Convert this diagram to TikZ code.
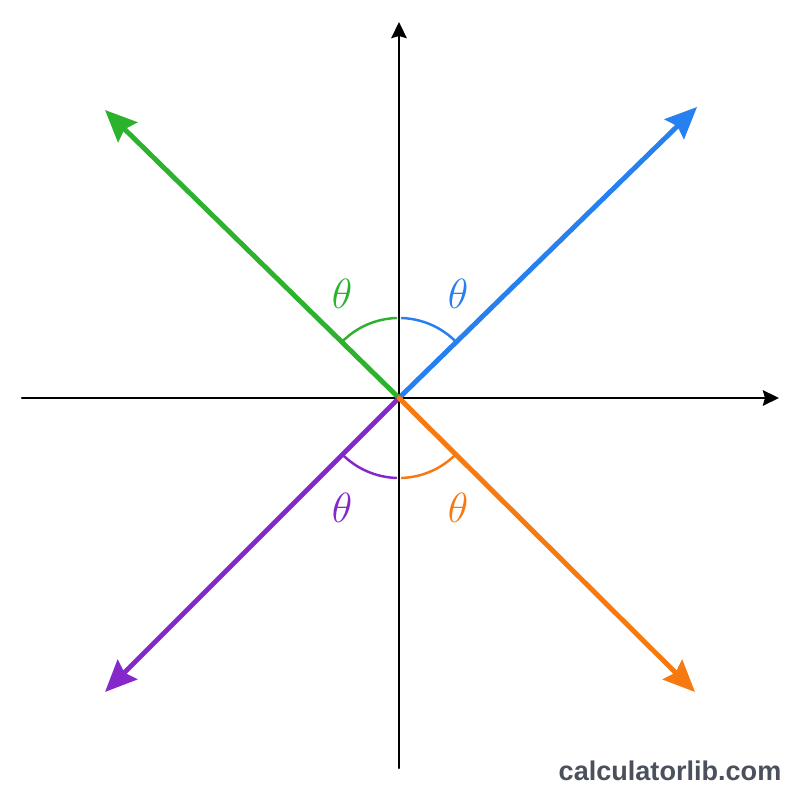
\documentclass[tikz,border=0pt]{standalone}
\usepackage{fontspec}
\newfontfamily\markfont{Liberation Sans}
\usetikzlibrary{arrows.meta}
\definecolor{vgreen}{RGB}{44,178,44}
\definecolor{vblue}{RGB}{38,128,240}
\definecolor{vpurple}{RGB}{132,40,204}
\definecolor{vorange}{RGB}{246,122,16}
\definecolor{markgray}{RGB}{74,80,92}
\tikzset{
  axis/.style={line width=0.6pt,-{Stealth[length=4.6pt,width=4.4pt,inset=0.6pt]}},
  vec/.style={line width=1.4pt,-{Stealth[length=9pt,width=7.8pt,inset=1.2pt]}},
  ang/.style={line width=0.7pt},
  lab/.style={inner sep=0pt,font=\fontsize{12}{14}\selectfont}
}
\begin{document}
\begin{tikzpicture}[line cap=round,line join=round,x=1cm,y=1cm]
\useasboundingbox (0,0) rectangle (8,8);
\fill[white] (0,0) rectangle (8,8);
\coordinate (O) at (3.99,4.02);
\coordinate (xl) at (0.22,4.02);
\coordinate (xr) at (7.79,4.02);
\coordinate (yb) at (3.99,0.32);
\coordinate (yt) at (3.99,7.78);
\coordinate (tipB) at (6.97,6.93);
\coordinate (tipG) at (1.05,6.90);
\coordinate (tipP) at (1.05,1.08);
\coordinate (tipO) at (6.95,1.08);
% axes
\draw [axis] (xl) -- (xr);
\draw [axis] (yb) -- (yt);
% angle arcs
\draw [ang,vgreen] ([shift={(92:0.8)}]O) arc (92:135:0.8);
\draw [ang,vblue] ([shift={(45:0.8)}]O) arc (45:88:0.8);
\draw [ang,vpurple] ([shift={(225:0.8)}]O) arc (225:268:0.8);
\draw [ang,vorange] ([shift={(272:0.8)}]O) arc (272:315:0.8);
% vectors
\draw [vec,vblue] (O) -- (tipB);
\draw [vec,vgreen] (O) -- (tipG);
\draw [vec,vpurple] (O) -- (tipP);
\draw [vec,vorange] (O) -- (tipO);
% labels
\node [lab,text=vgreen] (thG) at (3.42,5.06) {$\theta$};
\node [lab,text=vblue] (thB) at (4.58,5.06) {$\theta$};
\node [lab,text=vpurple] (thP) at (3.42,2.92) {$\theta$};
\node [lab,text=vorange] (thO) at (4.58,2.92) {$\theta$};
\node [anchor=base east,inner sep=0pt,text=markgray,font=\markfont\bfseries\fontsize{7.7}{9}\selectfont] (mark) at (7.82,0.19) {calculatorlib.com};
\end{tikzpicture}
\end{document}
